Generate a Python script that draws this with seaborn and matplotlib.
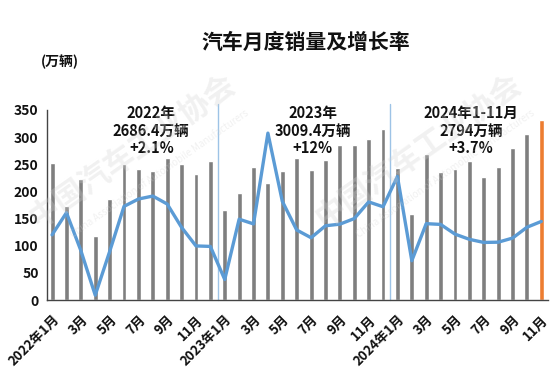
import numpy as np
import pandas as pd
import matplotlib
matplotlib.use("Agg")
import matplotlib.pyplot as plt
import seaborn as sns

# ---- data ----
years = [2022] * 12 + [2023] * 12 + [2024] * 11
months = list(range(1, 13)) + list(range(1, 13)) + list(range(1, 12))
sales = [253.1, 173.7, 223.4, 118.1, 186.2, 250.2, 242.0, 238.3, 261.0, 250.1, 232.9, 255.6,
         164.9, 197.6, 245.1, 215.9, 238.2, 262.2, 238.7, 258.2, 285.8, 285.3, 297.0, 315.6,
         243.9, 158.4, 269.4, 235.9, 241.7, 255.2, 226.2, 245.3, 280.9, 305.3, 331.7]
growth = [0.9, 18.7, -11.7, -47.6, -12.6, 23.8, 29.7, 32.1, 25.7, 6.9, -8.0, -8.4,
          -35.0, 13.5, 9.7, 82.7, 27.9, 4.8, -1.4, 8.2, 9.5, 14.0, 27.4, 23.5,
          47.9, -19.9, 9.9, 9.3, 1.5, -2.7, -5.2, -5.0, -1.7, 7.0, 11.7]
annotations = ["2022年\n2686.4万辆\n+2.1%", "2023年\n3009.4万辆\n+12%", "2024年1-11月\n2794万辆\n+3.7%"]
annot_x = [6.9, 18.1, 29.1]
yticks = [0, 50, 100, 150, 200, 250, 300, 350]
title = "汽车月度销量及增长率"
unit = "(万辆)"
watermark_cn = "中国汽车工业协会"
watermark_en = "China Association of Automobile Manufacturers"

sns.set_theme(style="white")
plt.rcParams['font.family'] = ['Noto Sans CJK SC', 'DejaVu Sans']

n = len(sales)
idx = list(range(n))
tick_labels = []
for i, (y, m) in enumerate(zip(years, months)):
    if m % 2 == 0:
        tick_labels.append("")
    elif m == 1:
        tick_labels.append(f"{y}年{m}月")
    else:
        tick_labels.append(f"{m}月")

df = pd.DataFrame({"idx": idx, "sales": sales, "growth": growth})
colors = ["#7F7F7F"] * (n - 1) + ["#ED7D31"]

fig = plt.figure(figsize=(5.5, 3.78), dpi=100)
ax = fig.add_axes([0.0855, 0.2063, 0.9105, 0.5027])

sns.barplot(data=df, x="idx", y="sales", hue="idx", palette=colors, legend=False,
            width=0.34, ax=ax, saturation=1, zorder=2)
ax.set_xlim(-0.35, n - 0.55)
ax.set_ylim(0, 350)
ax.set_yticks(yticks)
ax.set_yticklabels([str(v) for v in yticks], fontsize=10, fontweight='bold', color='#111111')
ax.set_xticks(idx)
ax.set_xticklabels(tick_labels, rotation=45, ha='right', rotation_mode='anchor',
                   fontsize=9.5, fontweight='bold', color='#111111')
ax.tick_params(axis='x', length=0, pad=9)
ax.tick_params(axis='y', length=0, pad=6)
ax.set_xlabel("")
ax.set_ylabel("")
for s in ["top", "right"]:
    ax.spines[s].set_visible(False)
for s in ["left", "bottom"]:
    ax.spines[s].set_color("#444444")
    ax.spines[s].set_linewidth(1.0)

for xv in [11.5, 23.5]:
    ax.axvline(xv, ymin=0, ymax=1.03, color="#9DC3E6", lw=1.0, clip_on=False, zorder=1)

ax2 = ax.twinx()
sns.lineplot(data=df, x="idx", y="growth", ax=ax2, color="#5B9BD5", lw=2.4, zorder=3)
ax2.set_ylim(-51.5, 101.3)
ax2.axis("off")

for txt, xv in zip(annotations, annot_x):
    ax.text(xv, 360, txt, ha='center', va='top', fontsize=10.5, fontweight='bold',
            color='#111111', linespacing=1.15, zorder=5)

fig.text(0.557, 0.889, title, ha='center', va='center', fontsize=15, fontweight='bold', color='#111111')
fig.text(0.109, 0.836, unit, ha='center', va='center', fontsize=10, fontweight='bold', color='#111111')

# faint watermark
for (wx, wy) in [(0.24, 0.6), (0.76, 0.6)]:
    fig.text(wx, wy, watermark_cn, ha='center', va='center', fontsize=22, fontweight='bold',
             color='#d0d0d0', alpha=0.3, rotation=35, zorder=0)
    fig.text(wx + 0.05, wy - 0.06, watermark_en, ha='center',
             va='center', fontsize=7, color='#d0d0d0', alpha=0.3, rotation=35, zorder=0)

fig.savefig("out.png", dpi=100)
